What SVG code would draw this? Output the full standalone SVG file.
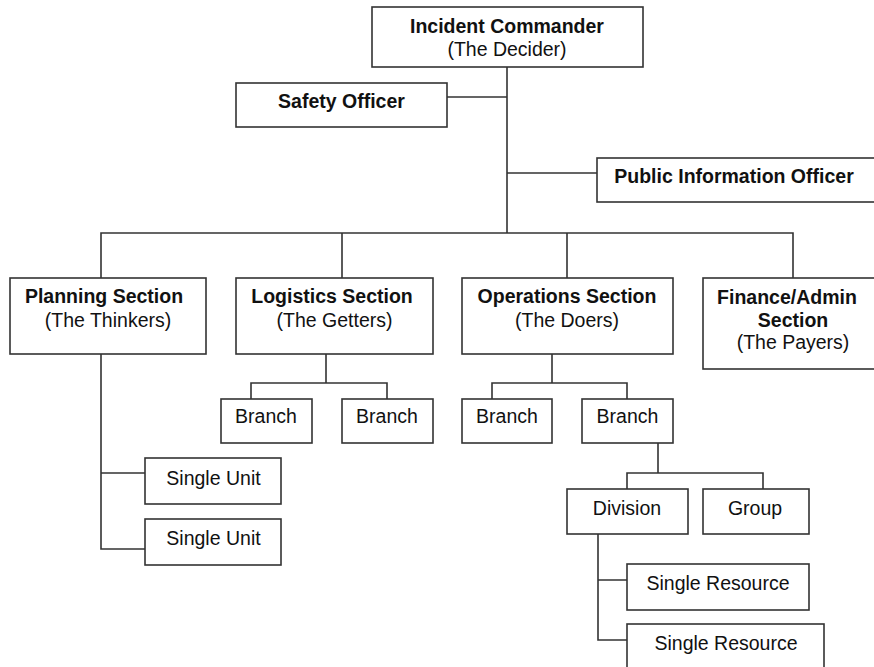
<svg xmlns="http://www.w3.org/2000/svg" width="874" height="667" viewBox="0 0 874 667">
<style>
.box{fill:#fff;stroke:#333;stroke-width:1.6}
.ln{fill:none;stroke:#333;stroke-width:1.6}
text{font-family:"Liberation Sans",Arial,sans-serif;font-size:19.5px;fill:#111;text-anchor:middle}
.b{font-weight:bold}
</style>
<rect width="874" height="667" fill="#fff"/>
<g id="connectors" class="ln">
<path d="M507 67V233M447 97H507M507 173H597"/>
<path d="M101 278V233H793V278M342 233V278M567 233V278"/>
<path d="M326 354V383M251 399V383H387V399"/>
<path d="M552 354V383M492 399V383H627V399"/>
<path d="M658 443V473M627 489V473H763V489"/>
<path d="M101 354V549H145M101 473H145"/>
<path d="M598 534V640H627M598 580H627"/>
</g>
<g id="incident-commander"><rect class="box" x="372" y="7" width="271" height="60"/><text class="b" x="507" y="33">Incident Commander</text><text x="507" y="56">(The Decider)</text></g>
<g id="safety-officer"><rect class="box" x="236" y="83" width="211" height="44"/><text class="b" x="341.5" y="108">Safety Officer</text></g>
<g id="public-information-officer"><rect class="box" x="597" y="158" width="285" height="44"/><text class="b" x="734" y="183">Public Information Officer</text></g>
<g id="planning-section"><rect class="box" x="10" y="278" width="196" height="76"/><text class="b" x="104" y="303">Planning Section</text><text x="108" y="327">(The Thinkers)</text></g>
<g id="logistics-section"><rect class="box" x="236" y="278" width="197" height="76"/><text class="b" x="332" y="303">Logistics Section</text><text x="334.5" y="327">(The Getters)</text></g>
<g id="operations-section"><rect class="box" x="462" y="278" width="211" height="76"/><text class="b" x="567" y="303">Operations Section</text><text x="567" y="327">(The Doers)</text></g>
<g id="finance-admin-section"><rect class="box" x="703" y="278" width="185" height="91"/><text class="b" x="787" y="304">Finance/Admin</text><text class="b" x="793" y="327">Section</text><text x="793" y="349">(The Payers)</text></g>
<g id="log-branch-1"><rect class="box" x="221" y="399" width="91" height="44"/><text x="266" y="423">Branch</text></g>
<g id="log-branch-2"><rect class="box" x="342" y="399" width="91" height="44"/><text x="387" y="423">Branch</text></g>
<g id="ops-branch-1"><rect class="box" x="462" y="399" width="90" height="44"/><text x="507" y="423">Branch</text></g>
<g id="ops-branch-2"><rect class="box" x="582" y="399" width="91" height="44"/><text x="627.5" y="423">Branch</text></g>
<g id="single-unit-1"><rect class="box" x="145" y="458" width="136" height="46"/><text x="213.5" y="485">Single Unit</text></g>
<g id="single-unit-2"><rect class="box" x="145" y="519" width="136" height="46"/><text x="213.5" y="545">Single Unit</text></g>
<g id="division"><rect class="box" x="567" y="489" width="121" height="45"/><text x="627" y="515">Division</text></g>
<g id="group"><rect class="box" x="703" y="489" width="106" height="45"/><text x="755" y="515">Group</text></g>
<g id="single-resource-1"><rect class="box" x="627" y="564" width="182" height="46"/><text x="718" y="590">Single Resource</text></g>
<g id="single-resource-2"><rect class="box" x="627" y="624" width="197" height="60"/><text x="726" y="650">Single Resource</text></g>
</svg>
